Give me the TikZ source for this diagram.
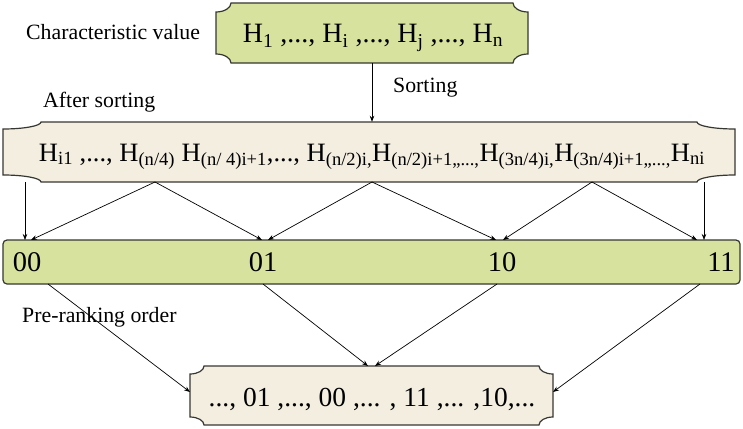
\documentclass[tikz,border=0pt]{standalone}
\usepackage{fontspec}
\setmainfont{Liberation Serif}
\usetikzlibrary{arrows.meta}
\definecolor{boxgreen}{RGB}{214,226,158}
\definecolor{boxbeige}{RGB}{243,238,224}
\definecolor{edgegray}{RGB}{55,55,50}
% plaque outline: x1 y1 x2 y2 notch-width notch-height style
\newcommand\plaqueshape[7]{%
  \draw[#7] (#1+#5,#2) -- (#3-#5,#2)
    .. controls (#3-#5,#2+0.552*#6) and (#3-0.552*#5,#2+#6) .. (#3,#2+#6)
    -- (#3,#4-#6)
    .. controls (#3-0.552*#5,#4-#6) and (#3-#5,#4-0.552*#6) .. (#3-#5,#4)
    -- (#1+#5,#4)
    .. controls (#1+#5,#4-0.552*#6) and (#1+0.552*#5,#4-#6) .. (#1,#4-#6)
    -- (#1,#2+#6)
    .. controls (#1+0.552*#5,#2+#6) and (#1+#5,#2+0.552*#6) .. (#1+#5,#2)
    -- cycle;}
\begin{document}
\begin{tikzpicture}[x=1pt,y=-1pt,
  conn/.style={draw=black, line width=0.7pt, -{Stealth[length=6pt,width=4.5pt]}},
  lbl/.style={inner sep=0pt, anchor=base west, font=\fontsize{21.8}{24}\selectfont},
  txt/.style={inner sep=0pt, anchor=base},
  hid/.style={inner sep=0pt, draw=none, rectangle},
  greenbox/.style={fill=boxgreen, draw=edgegray, line width=1.2pt},
  beigebox/.style={fill=boxbeige, draw=edgegray, line width=1.2pt}]
\useasboundingbox (0,0) rectangle (743,428);
\fill[white] (0,0) rectangle (743,428);

% boxes
\plaqueshape{216}{3}{528}{63}{15}{9}{greenbox}
\node[hid, minimum width=312, minimum height=60] (top) at (372,33) {};
\plaqueshape{3}{122}{735}{182}{38}{7}{beigebox}
\node[hid, minimum width=732, minimum height=60] (sorted) at (369,152) {};
\draw[greenbox, rounded corners=4pt] (3,240) rectangle (740,284);
\node[hid, minimum width=737, minimum height=44] (bar) at (371.5,262) {};
\plaqueshape{190}{366}{553}{425}{14}{8}{beigebox}
\node[hid, minimum width=363, minimum height=59] (order) at (371.5,395.5) {};

% texts
\node[txt, font=\fontsize{28}{32}\selectfont] (toptext) at (373,43)
  {H\textsubscript{1} ,..., H\textsubscript{i} ,..., H\textsubscript{j} ,..., H\textsubscript{n}};
\node[txt, font=\fontsize{26.5}{30}\selectfont] (sortedtext) at (372,161)
  {H\textsubscript{i1} ,..., H\textsubscript{(n/4)} H\textsubscript{(n/ 4)i+1},..., H\textsubscript{(n/2)i,}H\textsubscript{(n/2)i+1,,...,}H\textsubscript{(3n/4)i,}H\textsubscript{(3n/4)i+1,,...,}H\textsubscript{ni}};
\node[txt, font=\fontsize{28.5}{32}\selectfont] (c00) at (27,271) {00};
\node[txt, font=\fontsize{28.5}{32}\selectfont] (c01) at (263,271) {01};
\node[txt, font=\fontsize{28.5}{32}\selectfont] (c10) at (502,271) {10};
\node[txt, font=\fontsize{28.5}{32}\selectfont] (c11) at (721,271) {11};
\node[txt, font=\fontsize{27.5}{30}\selectfont] (ordertext) at (372,406)
  {..., 01 ,..., 00 ,... , 11 ,... ,10,...};

\node[lbl] (charlbl) at (26,40) {Characteristic value};
\node[lbl] (sortlbl) at (393,92) {Sorting};
\node[lbl] (afterlbl) at (43,107) {After sorting};
\node[lbl] (prelbl) at (22,322) {Pre-ranking order};

% tap points
\coordinate (t0) at (25,182);
\coordinate (t1) at (155,182);
\coordinate (t2) at (372,182);
\coordinate (t3) at (592,182);
\coordinate (t4) at (704,182);
\coordinate (a00) at (25,240);
\coordinate (b00) at (31,240);
\coordinate (a01) at (262,240);
\coordinate (b01) at (268,240);
\coordinate (a10) at (496,240);
\coordinate (b10) at (503,240);
\coordinate (a11) at (697,240);
\coordinate (b11) at (704,240);
\coordinate (u0) at (48,284);
\coordinate (u1) at (263,284);
\coordinate (u2) at (497,284);
\coordinate (u3) at (700,284);
\coordinate (o0) at (190,392);
\coordinate (o1) at (368,366);
\coordinate (o2) at (375,366);
\coordinate (o3) at (553,392);

% connectors
\draw[conn] (top.south) -- (top.south |- sorted.north);
\draw[conn] (t0) -- (a00);
\draw[conn] (t1) -- (b00);
\draw[conn] (t1) -- (a01);
\draw[conn] (t2) -- (b01);
\draw[conn] (t2) -- (a10);
\draw[conn] (t3) -- (b10);
\draw[conn] (t3) -- (a11);
\draw[conn] (t4) -- (b11);
\draw[conn] (u0) -- (o0);
\draw[conn] (u1) -- (o1);
\draw[conn] (u2) -- (o2);
\draw[conn] (u3) -- (o3);
\end{tikzpicture}
\end{document}
